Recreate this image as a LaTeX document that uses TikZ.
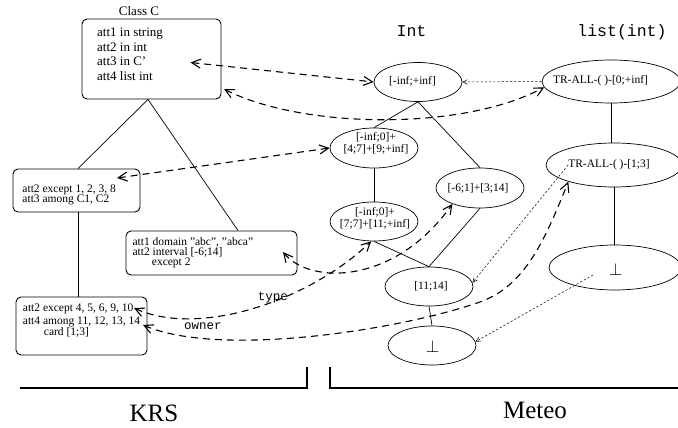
\documentclass[tikz,border=0pt]{standalone}
\usepackage{fontspec}
\setmainfont{Liberation Serif}
\newfontfamily\monofam{Liberation Mono}
\usetikzlibrary{arrows.meta,shapes.geometric}
\begin{document}
\begin{tikzpicture}[x=1pt,y=-1pt,
  box/.style={draw, rounded corners=5pt, line width=0.9pt, inner sep=0pt},
  ell/.style={draw, ellipse, line width=0.7pt, inner sep=0pt},
  etxt/.style={font=\fontsize{11.5}{12.5}\selectfont, align=center, inner sep=0pt},
  btxt/.style={font=\fontsize{11.5}{12}\selectfont, anchor=base west, inner sep=0pt},
  ctxt/.style={font=\fontsize{13}{14}\selectfont, anchor=base west, inner sep=0pt},
  ttl/.style={font=\fontsize{13}{14}\selectfont, anchor=base, inner sep=0pt},
  monobig/.style={font=\monofam\fontsize{16.5}{18}\selectfont, anchor=base, inner sep=0pt},
  monosmall/.style={font=\monofam\fontsize{12.5}{14}\selectfont, anchor=base, inner sep=0pt},
  big/.style={font=\fontsize{25}{28}\selectfont, anchor=base, inner sep=0pt},
  bot/.style={font=\fontsize{17}{18}\selectfont, inner sep=0pt},
  tree/.style={line width=0.7pt},
  link/.style={dash pattern=on 7pt off 5pt, line width=1.1pt,
    {Straight Barb[length=9pt,width=9pt]}-{Straight Barb[length=9pt,width=9pt]}},
  dotlink/.style={dash pattern=on 2.2pt off 2pt, line width=0.5pt,
    -{Straight Barb[length=4.5pt,width=4.5pt]}},
  bracket/.style={line width=2.6pt}
]
\useasboundingbox (0,0) rectangle (678,428);

% ---------- KRS side: class boxes ----------
\node[ttl] (title) at (139,16) {Class C};
\node[box, minimum width=139pt, minimum height=80pt] (cC) at (151.5,59) {};
\node[ctxt] (cC1) at (97,37) {att1 in string};
\node[ctxt] (cC2) at (97,51.5) {att2 in int};
\node[ctxt] (cC3) at (97,66) {att3 in C'};
\node[ctxt] (cC4) at (97,80.5) {att4 list int};

\node[box, minimum width=127pt, minimum height=43pt] (b2) at (76.5,190.5) {};
\node[btxt] (b21) at (22.3,192.3) {att2 except 1, 2, 3, 8};
\node[btxt] (b22) at (22.3,202.3) {att3 among C1, C2};

\node[box, minimum width=171pt, minimum height=44pt] (b3) at (211.5,253) {};
\node[btxt] (b31) at (132.3,245.7) {att1 domain "abc", "abca"};
\node[btxt] (b32) at (132.3,255.7) {att2 interval [-6;14]};
\node[btxt] (b33) at (151.7,265.7) {except 2};

\node[box, minimum width=131pt, minimum height=58pt] (b4) at (81.5,326) {};
\node[btxt] (b41) at (22.7,311.5) {att2 except 4, 5, 6, 9, 10};
\node[btxt] (b42) at (22.7,324.5) {att4 among 11, 12, 13, 14};
\node[btxt] (b43) at (43.7,335) {card [1;3]};

\draw[tree] ([xshift=-3.5pt]cC.south) -- ([xshift=1.5pt]b2.north);
\draw[tree] ([xshift=-3.5pt]cC.south) -- ([xshift=26.5pt]b3.north);
\draw[tree] ([xshift=1.5pt]b2.south) -- ([xshift=-3.5pt]b4.north);

% ---------- Meteo side: Int lattice ----------
\node[monobig] (int) at (411.5,37) {Int};
\node[monobig] (lint) at (622,37) {list(int)};

\node[ell, minimum width=88pt, minimum height=39pt] (E0) at (418,82) {};
\node[etxt] (E0t) at (412.5,81) {[-inf;+inf]};
\node[ell, minimum width=88pt, minimum height=40pt] (EA) at (374,148) {};
\node[etxt] (EAt) at (376,143.5) {[-inf;0]+\\{}[4;7]+[9;+inf]};
\node[ell, minimum width=88pt, minimum height=40pt] (EC) at (480,188) {};
\node[etxt] (ECt) at (478,188.3) {[-6;1]+[3;14]};
\node[ell, minimum width=88pt, minimum height=39pt] (EB) at (374,221.5) {};
\node[etxt] (EBt) at (375,218.5) {[-inf;0]+\\{}[7;7]+[11;+inf]};
\node[ell, minimum width=88pt, minimum height=39pt] (ED) at (429,286.5) {};
\node[etxt] (EDt) at (431,286.7) {[11;14]};
\node[ell, minimum width=88pt, minimum height=39pt] (EZ) at (432,345.5) {};
\node[bot] (EZt) at (432.5,346) {$\perp$};

\draw[tree] (E0.south) -- (EA.north);
\draw[tree] (E0.south) -- (EC.north);
\draw[tree] (EA.south) -- (EB.north);
\draw[tree] (EB.south) -- (ED.north);
\draw[tree] (EC.south) -- (ED.north);
\draw[tree] (ED.south) -- (EZ.north);

% ---------- list(int) lattice ----------
\node[ell, minimum width=138pt, minimum height=43pt] (L0) at (611,81.5) {};
\node[etxt] (L0t) at (600.5,81) {TR-ALL-( )-[0;+inf]};
\node[ell, minimum width=136pt, minimum height=44pt] (L1) at (614,165) {};
\node[etxt] (L1t) at (609,165) {TR-ALL-( )-[1;3]};
\node[ell, minimum width=132pt, minimum height=45pt] (L2) at (615,267.5) {};
\node[bot] (L2t) at (615.5,269) {$\perp$};

\draw[tree] (L0.south) -- (L0.south |- L1.north);
\draw[tree] (L1.south) -- (L1.south |- L2.north);

% ---------- dotted mappings ----------
\draw[dotlink] (L0.west) -- (E0.east);
\draw[dotlink] (L1t.west) -- (ED.5);
\coordinate (z2) at (593,275);
\draw[dotlink] (z2) -- (EZ.5);

% ---------- dashed correspondences ----------
\coordinate (c1) at (190.5,62.5);
\draw[link] (c1) -- (E0.west);
\coordinate (c2) at (224,89);
\draw[link] (c2) .. controls (300,128) and (460,132) .. (L0.185);
\coordinate (c3) at (117,178);
\draw[link] (c3) -- (EA.west);
\coordinate (c4) at (283,252);
\draw[link] (c4) .. controls (310,285) and (395,285) .. (EC.210);
\coordinate (c5) at (134,308);
\draw[link] (c5) .. controls (200,338) and (310,300) .. (EB.262);
\coordinate (c6) at (143,325);
\draw[link] (c6) .. controls (220,358) and (400,330) .. (480,302)
   .. controls (525,286) and (545,240) .. (L1.200);

\node[monosmall] (type) at (273,300.5) {type};
\node[monosmall] (owner) at (203,329.3) {owner};

% ---------- brackets ----------
\draw[bracket] (20,388) -- (307,388) -- (307,367);
\draw[bracket] (330,367) -- (330,388) -- (678,388);
\node[big] (krs) at (154,421.7) {KRS};
\node[big] (meteo) at (535,418.3) {Meteo};
\end{tikzpicture}
\end{document}
